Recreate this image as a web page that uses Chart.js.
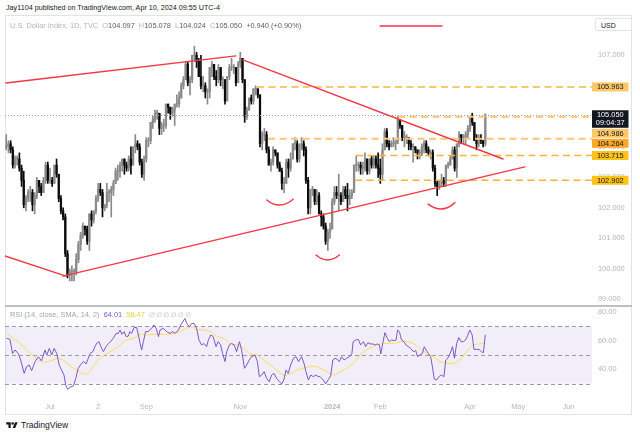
<!DOCTYPE html>
<html lang="en"><head><meta charset="utf-8"><title>U.S. Dollar Index, 1D</title>
<script src="https://cdn.jsdelivr.net/npm/chart.js@4.4.1/dist/chart.umd.min.js"></script>
<style>
html,body{margin:0;padding:0;background:#ffffff;}
body{position:relative;width:640px;height:436px;overflow:hidden;font-family:"Liberation Sans",Arial,sans-serif;color:#131722;}
.a{position:absolute;white-space:nowrap;line-height:1;}
#frame{left:5px;top:15px;width:627px;height:400px;border:1px solid #e0e3eb;box-sizing:border-box;}
#cp{position:absolute;left:5px;top:18px;}
#cr{position:absolute;left:5px;top:307px;}
#sep{left:5px;top:305px;width:627px;height:2px;background:#bdbfc6;}
#hdr{left:6px;top:4px;font-size:7.2px;color:#131722;}
#leg{left:10px;top:21.5px;font-size:7.4px;color:#b2b5be;}
#leg b{font-weight:normal;color:#5d606b;}
#usd{left:595px;top:18px;width:37px;height:13px;border:1px solid #e0e3eb;border-radius:2px;box-sizing:border-box;font-size:7px;padding:2.5px 0 0 5px;background:#fff;color:#131722;}
#rleg{left:10px;top:311px;font-size:7.4px;color:#a3a6af;}
#rleg .p{color:#7e57c2;}
#rleg .s{color:#f2cf3b;}
#rleg .n{font-family:"DejaVu Sans",sans-serif;font-size:6.5px;color:#b2b5be;letter-spacing:1.6px;}
#logo{left:6px;top:421px;font-size:8.6px;color:#131722;display:flex;align-items:center;gap:3px;}
</style></head>
<body>
<div class="a" id="hdr">Jay1104 published on TradingView.com, Apr 10, 2024 09:55 UTC-4</div>
<div class="a" id="frame"></div>
<canvas id="cp" width="626" height="287"></canvas>
<div class="a" id="sep"></div>
<canvas id="cr" width="626" height="107"></canvas>
<div class="a" id="leg">U.S. Dollar Index, 1D, TVC&nbsp; O<b>104.097</b>&nbsp; H<b>105.078</b>&nbsp; L<b>104.024</b>&nbsp; C<b>105.050</b>&nbsp; <b>+0.940 (+0.90%)</b></div>
<div class="a" id="usd">USD</div>
<div class="a" id="rleg">RSI (14, close, SMA, 14, 2)&nbsp; <span class="p">64.01</span>&nbsp; <span class="s">58.47</span>&nbsp; <span class="n">∅∅∅∅∅∅</span></div>
<div class="a" id="logo"><svg width="12" height="9" viewBox="0 0 36 28"><path d="M14 22H7V11H0V4h14v18zM28 22h-8l7.5-18h8L28 22z" fill="#131722"/><circle cx="20" cy="8" r="4" fill="#131722"/></svg><span>TradingView</span></div>
<script>
// ---- bar positions: index 0 = 3 Jul 2023 (trading days; 25 Dec, 1 Jan, 29 Mar absent)
const FIRST_BAR = -20;            // 5 Jun 2023
const X_MIN = -20.57, X_MAX = 247.77;
const tickBars   = [0, 22, 44, 87, 129, 151, 192, 214, 237];
const tickLabels = ['Jul', '2', 'Sep', 'Nov', '2024', 'Feb', 'Apr', 'May', 'Jun'];
const priceTicks = [99, 100, 101, 102, 103, 104, 105, 106, 107];
const rsiTicks   = [40, 60, 80];

// ---- daily OHLC, Jun 2023 .. 10 Apr 2024
const open = [
 104.0,104.0,104.1,103.9,103.4,103.6,103.6,103.3,102.9,102.1,102.3,102.5,102.5,102.1,102.4,102.9,102.7,102.5,102.9,103.4,
 102.9,102.9,102.8,103.4,103.1,102.3,101.9,101.7,100.5,99.8,99.9,99.9,99.9,100.3,100.8,101.1,101.4,101.3,100.9,101.8,101.6,
 101.9,102.3,102.6,102.5,102.0,102.1,102.5,102.5,102.6,102.8,103.2,103.2,103.4,103.6,103.4,103.3,103.6,103.4,104.0,104.1,104.0,103.5,103.1,
 103.6,104.2,104.2,104.8,104.9,105.1,105.1,104.6,104.7,104.7,105.4,105.3,105.1,105.2,105.4,105.4,105.6,106.0,106.2,106.7,106.1,
 106.2,107.0,107.0,106.8,106.3,106.0,106.0,105.8,105.8,106.6,106.7,106.3,106.2,106.6,106.2,106.2,105.5,106.3,106.6,106.6,106.6,106.1,
 106.7,106.9,106.2,105.0,105.2,105.6,105.5,105.9,105.9,105.7,104.1,104.4,104.4,103.9,103.4,103.5,103.9,103.8,103.4,103.2,102.8,102.8,
 103.5,103.3,103.6,104.1,104.1,103.6,104.0,104.1,103.9,102.9,102.0,102.6,102.6,102.2,102.4,101.8,101.7,101.4,100.9,101.2,
 101.3,102.2,102.5,102.4,102.4,102.2,102.6,102.4,102.3,102.4,102.5,103.4,103.4,103.4,103.3,103.3,103.6,103.2,103.6,103.4,103.6,103.4,
 103.3,103.1,103.9,104.5,104.1,104.0,104.1,104.1,104.2,104.9,104.7,104.3,104.3,104.3,104.1,104.0,104.0,103.9,103.8,103.8,104.0,
 104.1,103.9,103.8,103.8,103.3,102.8,102.7,102.9,102.9,102.8,103.4,103.4,103.6,103.9,103.3,104.1,104.4,104.3,104.3,104.4,
 104.6,105.0,104.8,104.2,104.1,104.3,104.2,104.097
];
const high = [
 104.4,104.2,104.2,104.0,103.7,103.7,103.8,103.4,103.2,102.4,102.6,102.7,102.6,102.5,103.0,102.9,102.8,103.0,103.5,103.5,
 103.3,103.0,103.4,103.6,103.1,102.4,102.0,101.8,100.6,100.0,100.1,100.0,100.5,100.9,101.2,101.5,101.4,101.4,101.8,101.9,101.9,
 102.4,102.8,102.8,102.6,102.1,102.8,102.6,102.7,102.9,103.3,103.4,103.5,103.6,103.6,103.5,103.7,104.0,104.0,104.4,104.2,104.1,103.6,103.7,
 104.3,104.3,104.8,105.0,105.2,105.2,105.1,104.8,104.9,105.4,105.4,105.3,105.3,105.4,105.7,105.8,106.1,106.3,106.8,106.8,106.3,
 107.0,107.3,107.1,106.9,107.0,106.3,106.1,105.9,106.6,106.8,106.7,106.5,106.7,106.6,106.3,106.2,106.3,106.7,106.9,106.7,106.6,106.8,
 107.1,106.9,106.2,105.3,105.6,105.7,105.9,106.0,105.9,105.7,104.5,104.6,104.5,104.0,103.6,104.0,103.9,103.8,103.5,103.3,103.0,103.6,
 103.6,103.8,104.1,104.3,104.2,104.1,104.3,104.2,104.0,103.0,102.6,102.7,102.6,102.6,102.5,101.9,101.8,101.5,101.3,101.5,
 102.3,102.7,102.7,103.1,102.5,102.7,102.7,102.8,102.6,102.6,103.4,103.7,103.5,103.5,103.5,103.8,103.6,103.6,103.7,103.7,103.7,103.8,
 103.6,104.1,104.6,104.6,104.2,104.2,104.3,104.2,105.0,104.9,104.7,104.5,104.4,104.3,104.2,104.1,104.0,103.9,103.9,104.1,104.2,
 104.2,104.0,103.9,103.9,103.4,102.9,102.9,103.1,103.0,103.4,103.5,103.7,104.0,104.0,104.1,104.5,104.4,104.4,104.5,104.7,
 105.0,105.1,104.8,104.4,104.4,104.4,104.2,105.078
];
const low = [
 103.9,103.8,103.8,103.3,103.3,103.4,103.2,102.7,102.0,101.9,102.2,102.2,101.9,101.8,102.3,102.5,102.4,102.5,102.8,102.8,
 102.8,102.7,102.8,103.0,102.2,101.8,101.6,100.4,99.7,99.6,99.6,99.6,99.8,100.2,100.6,101.0,101.1,100.8,100.6,101.4,101.5,
 101.8,102.2,102.4,101.7,101.9,102.0,102.2,101.7,102.4,102.8,102.9,103.0,103.2,103.1,103.2,103.2,103.1,103.4,103.8,103.9,103.4,103.0,102.9,
 103.5,104.0,104.1,104.6,104.8,104.9,104.4,104.4,104.5,104.6,105.1,104.9,105.0,104.7,105.3,105.3,105.6,105.9,106.2,106.0,105.7,
 106.1,106.8,106.6,106.3,105.9,105.8,105.6,105.4,105.6,106.3,106.2,106.0,106.1,106.0,105.9,105.4,105.5,106.2,106.5,106.4,106.0,106.1,
 106.6,106.1,104.8,104.9,105.2,105.4,105.4,105.7,105.6,104.0,103.9,104.2,103.8,103.4,103.2,103.4,103.7,103.3,103.2,102.6,102.5,102.8,
 103.0,103.2,103.6,103.9,103.5,103.5,103.9,103.7,102.8,101.8,101.8,102.4,102.1,102.1,101.8,101.4,101.3,100.8,100.6,101.0,
 101.3,102.1,102.3,101.9,102.1,102.2,102.3,101.9,102.1,102.3,102.5,103.2,103.2,103.1,103.1,103.2,103.1,103.1,103.3,103.3,103.3,103.0,
 102.8,102.9,103.9,104.0,103.9,104.0,104.0,103.9,104.1,104.6,104.2,104.0,104.1,103.9,103.9,103.5,103.8,103.6,103.6,103.7,103.8,
 103.8,103.7,103.6,103.2,102.7,102.4,102.6,102.7,102.7,102.7,103.3,103.4,103.6,103.2,103.0,104.0,104.1,104.1,104.1,104.3,
 104.5,104.7,104.2,103.9,104.0,104.1,104.0,104.024
];
const close = [
 104.0,104.1,103.9,103.4,103.6,103.6,103.3,102.9,102.1,102.3,102.5,102.5,102.1,102.4,102.9,102.7,102.5,102.9,103.4,102.9,
 102.9,102.8,103.4,103.1,102.3,101.9,101.7,100.5,99.8,99.9,99.9,99.9,100.3,100.8,101.1,101.4,101.3,100.9,101.8,101.6,101.9,
 102.3,102.6,102.5,102.0,102.1,102.5,102.5,102.6,102.8,103.2,103.2,103.4,103.6,103.4,103.3,103.6,103.4,104.0,104.1,104.0,103.5,103.1,103.6,
 104.2,104.2,104.8,104.9,105.1,105.1,104.6,104.7,104.7,105.4,105.3,105.1,105.2,105.4,105.4,105.6,106.0,106.2,106.7,106.1,106.2,
 107.0,107.0,106.8,106.3,106.0,106.0,105.8,105.8,106.6,106.7,106.3,106.2,106.6,106.2,106.2,105.5,106.3,106.6,106.6,106.6,106.1,106.7,
 106.9,106.2,105.0,105.2,105.6,105.5,105.9,105.9,105.7,104.1,104.4,104.4,103.9,103.4,103.5,103.9,103.8,103.4,103.2,102.8,102.8,103.5,
 103.3,103.6,104.1,104.1,103.6,104.0,104.1,103.9,102.9,102.0,102.6,102.6,102.2,102.4,101.8,101.7,101.4,100.9,101.2,101.3,
 102.2,102.5,102.4,102.4,102.2,102.6,102.4,102.3,102.4,102.5,103.4,103.4,103.4,103.3,103.3,103.6,103.2,103.6,103.4,103.6,103.4,103.3,
 103.1,103.9,104.5,104.1,104.0,104.1,104.1,104.2,104.9,104.7,104.3,104.3,104.3,104.1,104.0,104.0,103.9,103.8,103.8,104.0,104.1,
 103.9,103.8,103.8,103.3,102.8,102.7,102.9,102.9,102.8,103.4,103.4,103.6,103.9,103.3,104.1,104.4,104.3,104.3,104.4,104.6,
 105.0,104.8,104.2,104.1,104.3,104.2,104.1,105.050
];
const LAST_PRICE = 105.050;
const COUNTDOWN = '09:04:37';

// ---- horizontal levels (price, first bar)
const levels     = [105.963, 104.986, 104.264, 103.715, 102.902];
const levelStart = [94.6, 159.1, 99.7, 139.9, 139.4];
// ---- trend lines [bar1, price1, bar2, price2]
const trendLines = [
  [-20.1, 106.09, 85.0, 106.98],
  [88.2, 106.85, 207.1, 103.60],
  [-20.6, 100.42, 7.3, 99.76],
  [5.9, 99.76, 217.1, 103.34],
  [150.9, 107.96, 179.2, 107.96]
];
// ---- shoulder/head arcs [bar, price] x3 (left, bottom, right)
const arcs = [
  [99.1, 102.256, 105.1, 102.09, 111.2, 102.28],
  [121.6, 100.45, 126.9, 100.29, 132.3, 100.45],
  [172.9, 102.12, 179.1, 101.96, 185.1, 102.17]
];

// ---- RSI(14)
const rsiBar = [-19.8,-18.3,-17.1,-16.0,-14.5,-13.4,-11.8,-10.7,-9.5,-8.4,-6.8,-5.3,-3.9,-2.3,-1.5,-0.3,0.8,1.9,3.1,4.2,5.3,6.4,7.2,8.1,9.2,10.7,11.8,12.9,14.5,15.5,16.5,17.5,18.3,19.6,20.5,21.6,22.4,23.3,24.4,25.6,26.7,27.7,28.9,30.2,31.2,32.0,32.9,33.9,34.8,35.8,36.5,37.3,38.4,39.6,40.4,41.2,41.9,42.7,43.7,44.9,46.5,47.5,48.5,49.6,50.3,51.8,53.3,54.9,56.1,57.2,58.7,60.2,61.7,62.5,63.7,64.8,65.9,67.0,68.1,69.3,70.4,71.6,72.4,73.5,74.6,75.9,76.9,78.0,78.9,80.0,80.8,82.0,83.0,84.2,85.3,86.6,87.6,88.9,89.9,91.1,92.2,93.7,94.8,95.7,96.8,97.9,99.0,100.2,101.3,102.4,103.6,104.9,105.9,106.9,107.9,108.9,110.0,111.3,112.5,113.6,115.0,116.1,117.0,118.1,119.2,120.4,121.5,122.6,123.4,124.9,126.0,127.3,128.3,129.3,130.3,131.3,132.2,133.3,134.4,135.6,136.9,138.0,138.6,139.9,140.9,142.0,143.3,144.3,145.3,146.3,147.5,148.6,149.6,150.6,151.2,152.1,153.1,154.2,155.1,156.2,157.3,158.2,158.9,159.7,160.7,161.8,162.7,163.8,164.9,166.1,167.2,168.0,169.1,170.2,171.1,171.9,173.0,174.0,174.8,175.7,176.8,177.8,178.9,180.1,180.9,181.8,182.9,184.0,184.9,185.9,186.9,187.9,189.0,190.0,191.0,191.9,193.0,193.8,195.0,196.1,197.2,198.1,199.0];
const rsiVal = [61.6,60.9,51,53.5,51,46.5,37.2,41.9,43,39,45.4,48.8,45.8,53.5,50,54.6,50,54.6,51,43,39.5,36,29,26,27.5,28.4,33.7,40.7,44.2,45.4,43.7,47.7,51,52.3,55.8,58.6,59.3,55.8,52.3,55.8,58,59.3,61.6,65,65,67.4,64.4,66.3,62.8,63.2,66.3,65,69,69.3,63.9,58,53.5,59.3,66.3,66.3,68.6,70.9,68.6,62.8,67.4,68.6,66.3,65,66.3,65,67.4,72,75.5,72,69.7,72,72,68.6,60.5,57,58,55.8,60.5,63.9,62.8,55.8,59.3,57,51,45.4,52.3,57,58,57,52.3,59.3,53.5,40.7,43,46.5,48.8,50,45.4,34.9,36,38.4,33.7,31.4,36,37.2,33.7,31.4,29.8,32.6,39.5,37.2,43,47.7,48.8,45.4,48.8,44.2,38.4,32.6,36,34.9,36,34.9,35,32.6,29.8,33,35.4,46.5,47.7,47,45.4,48.8,46.5,47.7,48.8,51,59.3,60.5,60.9,57,59.3,55.8,58.6,57.7,57.7,57,57.7,57,50.7,58,65.6,61.6,59.3,60.5,60,60.5,67.4,66.3,60.5,59.3,57,55.8,54.6,52.3,53,48.8,50,51,55.8,53.5,51,48.8,41.9,33,32.6,34.9,36,34.9,46.5,47.7,51,55.8,47.7,58,62.1,59.3,59.3,60.5,63.9,67.4,63.9,53.9,53.9,53.9,52.3,51.6,64.01];
// ---- SMA(14) of RSI
const smaBar = [-19.8,-16.8,-13.7,-10.7,-7.6,-4.5,-1.5,1.5,3.1,4.5,6.8,9.2,12.1,15.2,17.5,19.8,22.8,25.9,28.9,32.0,35.1,38.1,41.2,44.2,47.2,50.3,53.3,56.4,59.4,62.5,64.8,67.0,70.1,73.2,76.2,79.2,82.2,85.3,88.4,91.4,94.5,97.6,100.6,103.6,106.6,109.7,112.8,115.8,118.9,121.9,123.4,126.5,129.5,132.6,135.6,138.6,141.7,144.7,147.8,150.9,153.9,156.9,160.0,163.0,166.1,169.1,172.2,175.3,178.3,181.3,184.3,187.4,190.5,193.5,196.6,199.0];
const smaVal = [65,61.6,58,53.5,49.3,45.4,45.1,46.5,47.7,47.4,45.4,42.3,39.5,36.8,37.2,41.9,47.7,51,53.5,57,60.5,61.6,64.4,63.9,64.4,64.4,64.4,65,66.3,68.6,69.7,67.9,67.4,66.3,63.2,61.6,58,57,54.6,51,50,46.5,43,39.5,36,36.8,39.5,40.7,41.9,41.9,40.7,38.4,36,38.4,40.7,44.2,50,53.5,55.8,57.7,58,58,59.3,59.3,58,54.6,51,48.8,45.4,44.2,44.2,46.5,52.3,57,57.7,58.47];
const rsiBand = [30, 50, 70];

// ---------------------------------------------------------------
const FONT = '"Liberation Sans", Arial, sans-serif';
Chart.defaults.font.family = FONT;
const UP = '#8a8a8a', DOWN = '#0b0b0b', RED = '#f23645';
const AXIS_TXT = '#b2b5be';

const bars = open.map((_, k) => FIRST_BAR + k);
const wickData = bars.map((b, k) => ({x: b, y: [low[k], high[k]]}));
const bodyData = bars.map((b, k) => ({x: b, y: [open[k], close[k]]}));
const candleColor = c => (close[c.dataIndex] >= open[c.dataIndex] ? UP : DOWN);

const levelStyle = [
  {line: '#ffc670', w: 2,   box: '#ffc766'},
  {line: '#ffc670', w: 2,   box: '#ffc766'},
  {line: '#ffc670', w: 2,   box: '#ffa726'},
  {line: '#f9b233', w: 1.5, box: '#ffc21a'},
  {line: '#f9b233', w: 1.5, box: '#ffc21a'}
];

const priceOverlay = {
  id: 'priceOverlay',
  afterDatasetsDraw(chart) {
    const {ctx, chartArea: a, scales: {x, y}} = chart;
    ctx.save();
    ctx.beginPath(); ctx.rect(a.left, a.top, a.right - a.left, a.bottom - a.top); ctx.clip();
    ctx.strokeStyle = '#9598a1'; ctx.lineWidth = 1; ctx.setLineDash([1, 2]);
    const yl = Math.round(y.getPixelForValue(LAST_PRICE)) + 0.5;
    ctx.beginPath(); ctx.moveTo(a.left, yl); ctx.lineTo(a.right, yl); ctx.stroke();
    levels.forEach((v, k) => {
      const st = levelStyle[k];
      ctx.strokeStyle = st.line; ctx.lineWidth = st.w; ctx.setLineDash([7, 4.5]);
      const yy = y.getPixelForValue(v);
      ctx.beginPath(); ctx.moveTo(x.getPixelForValue(levelStart[k]), yy); ctx.lineTo(a.right, yy); ctx.stroke();
    });
    ctx.setLineDash([]);
    ctx.strokeStyle = RED; ctx.lineWidth = 1.4; ctx.lineCap = 'round';
    trendLines.forEach(([b1, p1, b2, p2]) => {
      ctx.beginPath();
      ctx.moveTo(x.getPixelForValue(b1), y.getPixelForValue(p1));
      ctx.lineTo(x.getPixelForValue(b2), y.getPixelForValue(p2));
      ctx.stroke();
    });
    arcs.forEach(([b1, p1, bm, pm, b2, p2]) => {
      const x0 = x.getPixelForValue(b1), y0 = y.getPixelForValue(p1);
      const xm = x.getPixelForValue(bm), ym = y.getPixelForValue(pm);
      const x2 = x.getPixelForValue(b2), y2 = y.getPixelForValue(p2);
      const cx = 2 * xm - (x0 + x2) / 2, cy = 2 * ym - (y0 + y2) / 2;
      ctx.beginPath(); ctx.moveTo(x0, y0); ctx.quadraticCurveTo(cx, cy, x2, y2); ctx.stroke();
    });
    ctx.restore();
  },
  afterDraw(chart) {
    const {ctx, chartArea: a, scales: {y}} = chart;
    const items = levels.map((v, k) => ({v, h: 9, bg: levelStyle[k].box, fg: '#131722', lines: [v.toFixed(3)]}));
    items.push({v: LAST_PRICE, h: 17.5, bg: '#131722', fg: '#ffffff', lines: [LAST_PRICE.toFixed(3), COUNTDOWN]});
    items.forEach(it => it.py = y.getPixelForValue(it.v));
    items.sort((p, q) => p.py - q.py || (q.h - p.h));
    let prevBottom = -1e9;
    ctx.save();
    ctx.font = '7.4px ' + FONT; ctx.textAlign = 'center'; ctx.textBaseline = 'middle';
    const bx = a.right, bw = 36.5;
    items.forEach(it => {
      const top = Math.max(it.py - 4.5, prevBottom + 1);
      ctx.fillStyle = it.bg; ctx.fillRect(bx, top, bw, it.h);
      ctx.fillStyle = it.fg;
      it.lines.forEach((t, j) => ctx.fillText(t, bx + bw / 2, top + 4.7 + j * 8.4));
      prevBottom = top + it.h;
    });
    ctx.restore();
  }
};

new Chart(document.getElementById('cp'), {
  data: {
    datasets: [
      {type: 'bar', data: wickData, backgroundColor: candleColor, barThickness: 1, maxBarThickness: 1, grouped: false, order: 2, borderWidth: 0},
      {type: 'bar', data: bodyData, backgroundColor: candleColor, barThickness: 2, maxBarThickness: 1.6, minBarLength: 0.8, grouped: false, order: 1, borderWidth: 0}
    ]
  },
  options: {
    animation: false, responsive: false, events: [],
    layout: {padding: 0},
    plugins: {legend: {display: false}, tooltip: {enabled: false}},
    scales: {
      x: {type: 'linear', min: X_MIN, max: X_MAX, display: false, offset: false},
      y: {
        position: 'right', min: 98.813, max: 108.223,
        grid: {display: false, drawTicks: false}, border: {display: false},
        ticks: {font: {size: 7.4}, color: AXIS_TXT, padding: 6, callback: v => Number(v).toFixed(3)},
        afterBuildTicks: s => { s.ticks = priceTicks.map(v => ({value: v})); },
        afterFit: s => { s.width = 39; s.paddingTop = 0; s.paddingBottom = 0; }
      }
    }
  },
  plugins: [priceOverlay]
});

const rsiOverlay = {
  id: 'rsiOverlay',
  beforeDatasetsDraw(chart) {
    const {ctx, chartArea: a, scales: {y}} = chart;
    const yTop = y.getPixelForValue(rsiBand[2]), yBot = y.getPixelForValue(rsiBand[0]);
    ctx.save();
    ctx.fillStyle = 'rgba(126,87,194,0.1)';
    ctx.fillRect(a.left, yTop, a.right - a.left, yBot - yTop);
    ctx.strokeStyle = '#9b98a8'; ctx.lineWidth = 1; ctx.setLineDash([4, 3]);
    rsiBand.forEach(v => {
      const yy = Math.round(y.getPixelForValue(v)) + 0.5;
      ctx.beginPath(); ctx.moveTo(a.left, yy); ctx.lineTo(a.right, yy); ctx.stroke();
    });
    ctx.restore();
  }
};

new Chart(document.getElementById('cr'), {
  type: 'line',
  data: {
    datasets: [
      {data: rsiBar.map((b, k) => ({x: b, y: rsiVal[k]})), borderColor: '#7e57c2', borderWidth: 1, pointRadius: 0, tension: 0, order: 1},
      {data: smaBar.map((b, k) => ({x: b, y: smaVal[k]})), borderColor: '#f7dc5e', borderWidth: 1, pointRadius: 0, tension: 0.3, order: 2}
    ]
  },
  options: {
    animation: false, responsive: false, events: [],
    layout: {padding: 0},
    plugins: {legend: {display: false}, tooltip: {enabled: false}},
    scales: {
      x: {
        type: 'linear', min: X_MIN, max: X_MAX,
        grid: {display: false, drawTicks: false}, border: {display: false},
        ticks: {
          autoSkip: false, maxRotation: 0, padding: 5, color: AXIS_TXT,
          font: c => ({size: 7.4, weight: (c.tick && c.tick.label === '2024') ? 'bold' : 'normal'}),
          callback: v => tickLabels[tickBars.indexOf(v)]
        },
        afterBuildTicks: s => { s.ticks = tickBars.map(v => ({value: v})); },
        afterFit: s => { s.height = 16; s.paddingLeft = 0; s.paddingRight = 0; }
      },
      y: {
        position: 'right', min: 20, max: 83.45,
        grid: {display: false, drawTicks: false}, border: {display: false},
        ticks: {font: {size: 7.4}, color: AXIS_TXT, padding: 6, callback: v => Number(v).toFixed(2)},
        afterBuildTicks: s => { s.ticks = rsiTicks.map(v => ({value: v})); },
        afterFit: s => { s.width = 39; s.paddingTop = 0; s.paddingBottom = 0; }
      }
    }
  },
  plugins: [rsiOverlay]
});
</script>
</body></html>
